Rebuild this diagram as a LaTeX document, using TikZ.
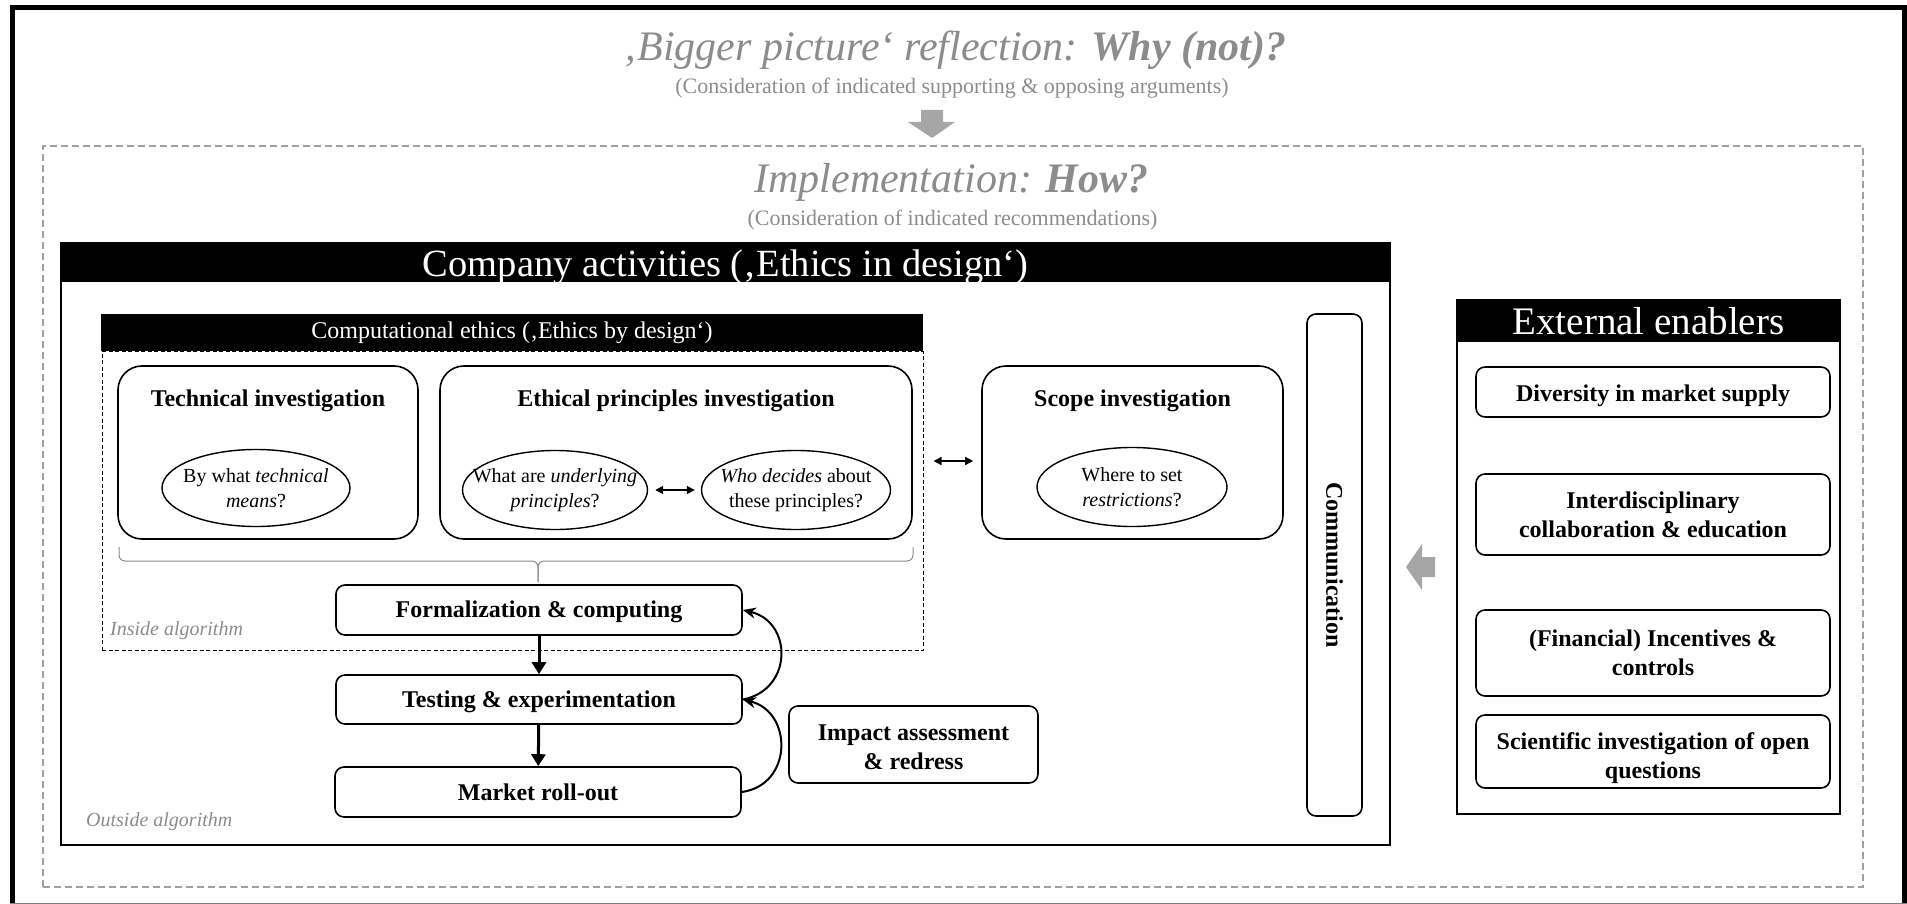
\documentclass[tikz,border=0pt]{standalone}
\usepackage{fontspec}
\setmainfont{Liberation Serif}
\usetikzlibrary{arrows.meta,shapes.geometric}
\definecolor{titlegray}{HTML}{8C8C8C}
\definecolor{framegray}{HTML}{A0A0A0}
\definecolor{bracegray}{HTML}{8A8A8A}
\definecolor{blockgray}{HTML}{A6A6A6}
\newcommand\fsz[2]{\fontsize{#1pt}{#2pt}\selectfont}
% invisible strut that lowers a node's text a little
\newcommand\lowr[1]{\rule{0pt}{#1pt}}

\begin{document}
\begin{tikzpicture}[x=1pt,y=-1pt,
  sz/.style 2 args={minimum width=#1pt, minimum height=#2pt},
  box/.style={draw, line width=1.6pt, rounded corners=9pt, align=center,
    inner sep=0pt, font=\bfseries\fsz{24}{29}},
  bigbox/.style={box, rounded corners=24pt},
  boxtitle/.style={inner sep=0pt, font=\bfseries\fsz{24}{29}},
  frame/.style={draw, line width=1.8pt, inner sep=0pt},
  header/.style={fill=black, text=white, inner sep=0pt},
  qell/.style={draw, ellipse, line width=1.4pt, inner sep=0pt},
  qtext/.style={align=center, inner sep=0pt, font=\fsz{20}{25}},
  ttl/.style={anchor=base, text=titlegray, inner sep=0pt},
  flow/.style={line width=3pt, -{Triangle[length=12pt,width=14pt]}},
  loopback/.style={line width=2pt, -{Stealth[length=13pt,width=11pt]}},
  dbl/.style={line width=1.5pt,
    {Triangle[length=8pt,width=8pt]}-{Triangle[length=8pt,width=8pt]}},
  algnote/.style={anchor=base west, text=titlegray, inner sep=0pt,
    font=\itshape\fsz{20}{20}},
]
\useasboundingbox (0,0) rectangle (1907,904);

% outer frame
\draw[line width=5pt, line join=miter] (12.5,904) -- (12.5,8) -- (1904.5,8) -- (1904.5,904);
\draw[gray, line width=1pt] (10,903) -- (1907,903);

% headline and reflection arrow
\node[ttl, font=\itshape\fsz{42}{42}] (why) at (955,61)
  {‚Bigger picture‘ reflection: \textbf{Why (not)?}};
\node[ttl, font=\fsz{22}{22}] (whysub) at (952,93.5)
  {(Consideration of indicated supporting \& opposing arguments)};
\fill[blockgray] (921,110) -- (943,110) -- (943,122) -- (955,122) -- (932,138)
  -- (908,122) -- (921,122) -- cycle;

% implementation frame
\node[draw=framegray, line width=1.5pt, dash pattern=on 7pt off 4pt, sz={1820}{741},
  inner sep=0pt] (impl) at (953,516.5) {};
\node[ttl, font=\itshape\fsz{42}{42}] (how) at (951.5,193)
  {Implementation: \textbf{How?}};
\node[ttl, font=\fsz{22}{22}] (howsub) at (952.5,226)
  {(Consideration of indicated recommendations)};

% company activities
\node[frame, sz={1329}{602}] (company) at (725.5,544) {};
\node[header, sz={1329}{39}, text height=31pt, text depth=3pt, font=\fsz{38.5}{38.5}]
  (comphead) at (725.5,262.5) {Company activities (‚Ethics in design‘)};

% computational ethics
\node[draw, line width=1pt, dash pattern=on 4pt off 2.5pt, sz={821}{299}, inner sep=0pt,
  anchor=north] (inside) at (512.5,351) {};
\node[header, sz={822}{37}, font=\fsz{24}{24}] (cethhead) at (512,332.5)
  {Computational ethics (‚Ethics by design‘)};

% investigations
\node[bigbox, sz={300}{173}] (tech) at (268,452.5) {};
\node[boxtitle] (techt) at (268,400.5) {Technical investigation};
\node[qell, sz={188}{77}] (etech) at (256,488) {};
\node[qtext] (etecht) at (etech) {By what \textit{technical}\\\textit{means}?};

\node[bigbox, sz={472}{173}] (eth) at (676,452.5) {};
\node[boxtitle] (etht) at (676,400.5) {Ethical principles investigation};
\node[qell, sz={185}{79}] (und) at (555,490) {};
\node[qtext] (undt) at (und) {What are \textit{underlying}\\\textit{principles}?};
\node[qell, sz={189}{79}] (who) at (796,490) {};
\node[qtext] (whot) at (who) {\textit{Who decides} about\\these principles?};
\draw[dbl, shorten <=7pt, shorten >=6pt] (und.east) -- (who.west);

\node[bigbox, sz={301}{173}] (scope) at (1132.5,452.5) {};
\node[boxtitle] (scopet) at (1132.5,400.5) {Scope investigation};
\node[qell, sz={190}{79}] (escope) at (1132,487) {};
\node[qtext] (escopet) at (escope) {Where to set\\\textit{restrictions}?};
\draw[dbl, shorten <=10pt, shorten >=8pt] (inside.east |- 0,461) -- (scope.west |- 0,461);

% brace gathering the investigations
\draw[bracegray, line width=1pt, rounded corners=6pt]
  (119,547) -- (119,561) -- (538,561) -- (538,582);
\draw[bracegray, line width=1pt, rounded corners=6pt]
  (913,547) -- (913,561) -- (538,561) -- (538,582);

% process chain
\node[box, sz={406}{50}] (form) at (539,610) {\lowr{21}Formalization \& computing};
\node[box, sz={406}{49}] (test) at (539,699.5) {\lowr{21}Testing \& experimentation};
\node[box, sz={406}{50}] (market) at (538,792) {Market roll-out};
\node[box, sz={249}{77}] (impact) at (913.5,744.5) {\lowr{22}Impact assessment\\\& redress};
\draw[flow] (form) -- (test);
\draw[flow] (test) -- (market);
\draw[loopback] (test.east) .. controls (793,690) and (793,622) .. (form.east);
\draw[loopback] (market.east) .. controls (793,785) and (793,712) .. (test.east);

\node[algnote] (insidelbl) at (110,635) {Inside algorithm};
\node[algnote] (outsidelbl) at (86,826) {Outside algorithm};

% communication
\node[box, rotate=-90, sz={502}{55}] (comm) at (1334.5,565) {Communication};

% external enablers
\fill[blockgray] (1406,567) -- (1422,544) -- (1422,557) -- (1435,557) -- (1435,577)
  -- (1422,577) -- (1422,590) -- cycle;
\node[frame, sz={383}{514}] (ext) at (1648.5,557) {};
\node[header, sz={383}{42}, font=\fsz{39}{39}] (exthead) at (1648.5,321) {External enablers};
\node[box, sz={354}{50}] (en1) at (1653,392) {\lowr{23.5}Diversity in market supply};
\node[box, sz={354}{81}] (en2) at (1653,514.5) {Interdisciplinary\\collaboration \& education};
\node[box, sz={354}{86}] (en3) at (1653,653) {(Financial) Incentives \&\\controls};
\node[box, sz={354}{73}] (en4) at (1653,751.5) {\lowr{31}Scientific investigation of open\\questions};
\end{tikzpicture}
\end{document}
